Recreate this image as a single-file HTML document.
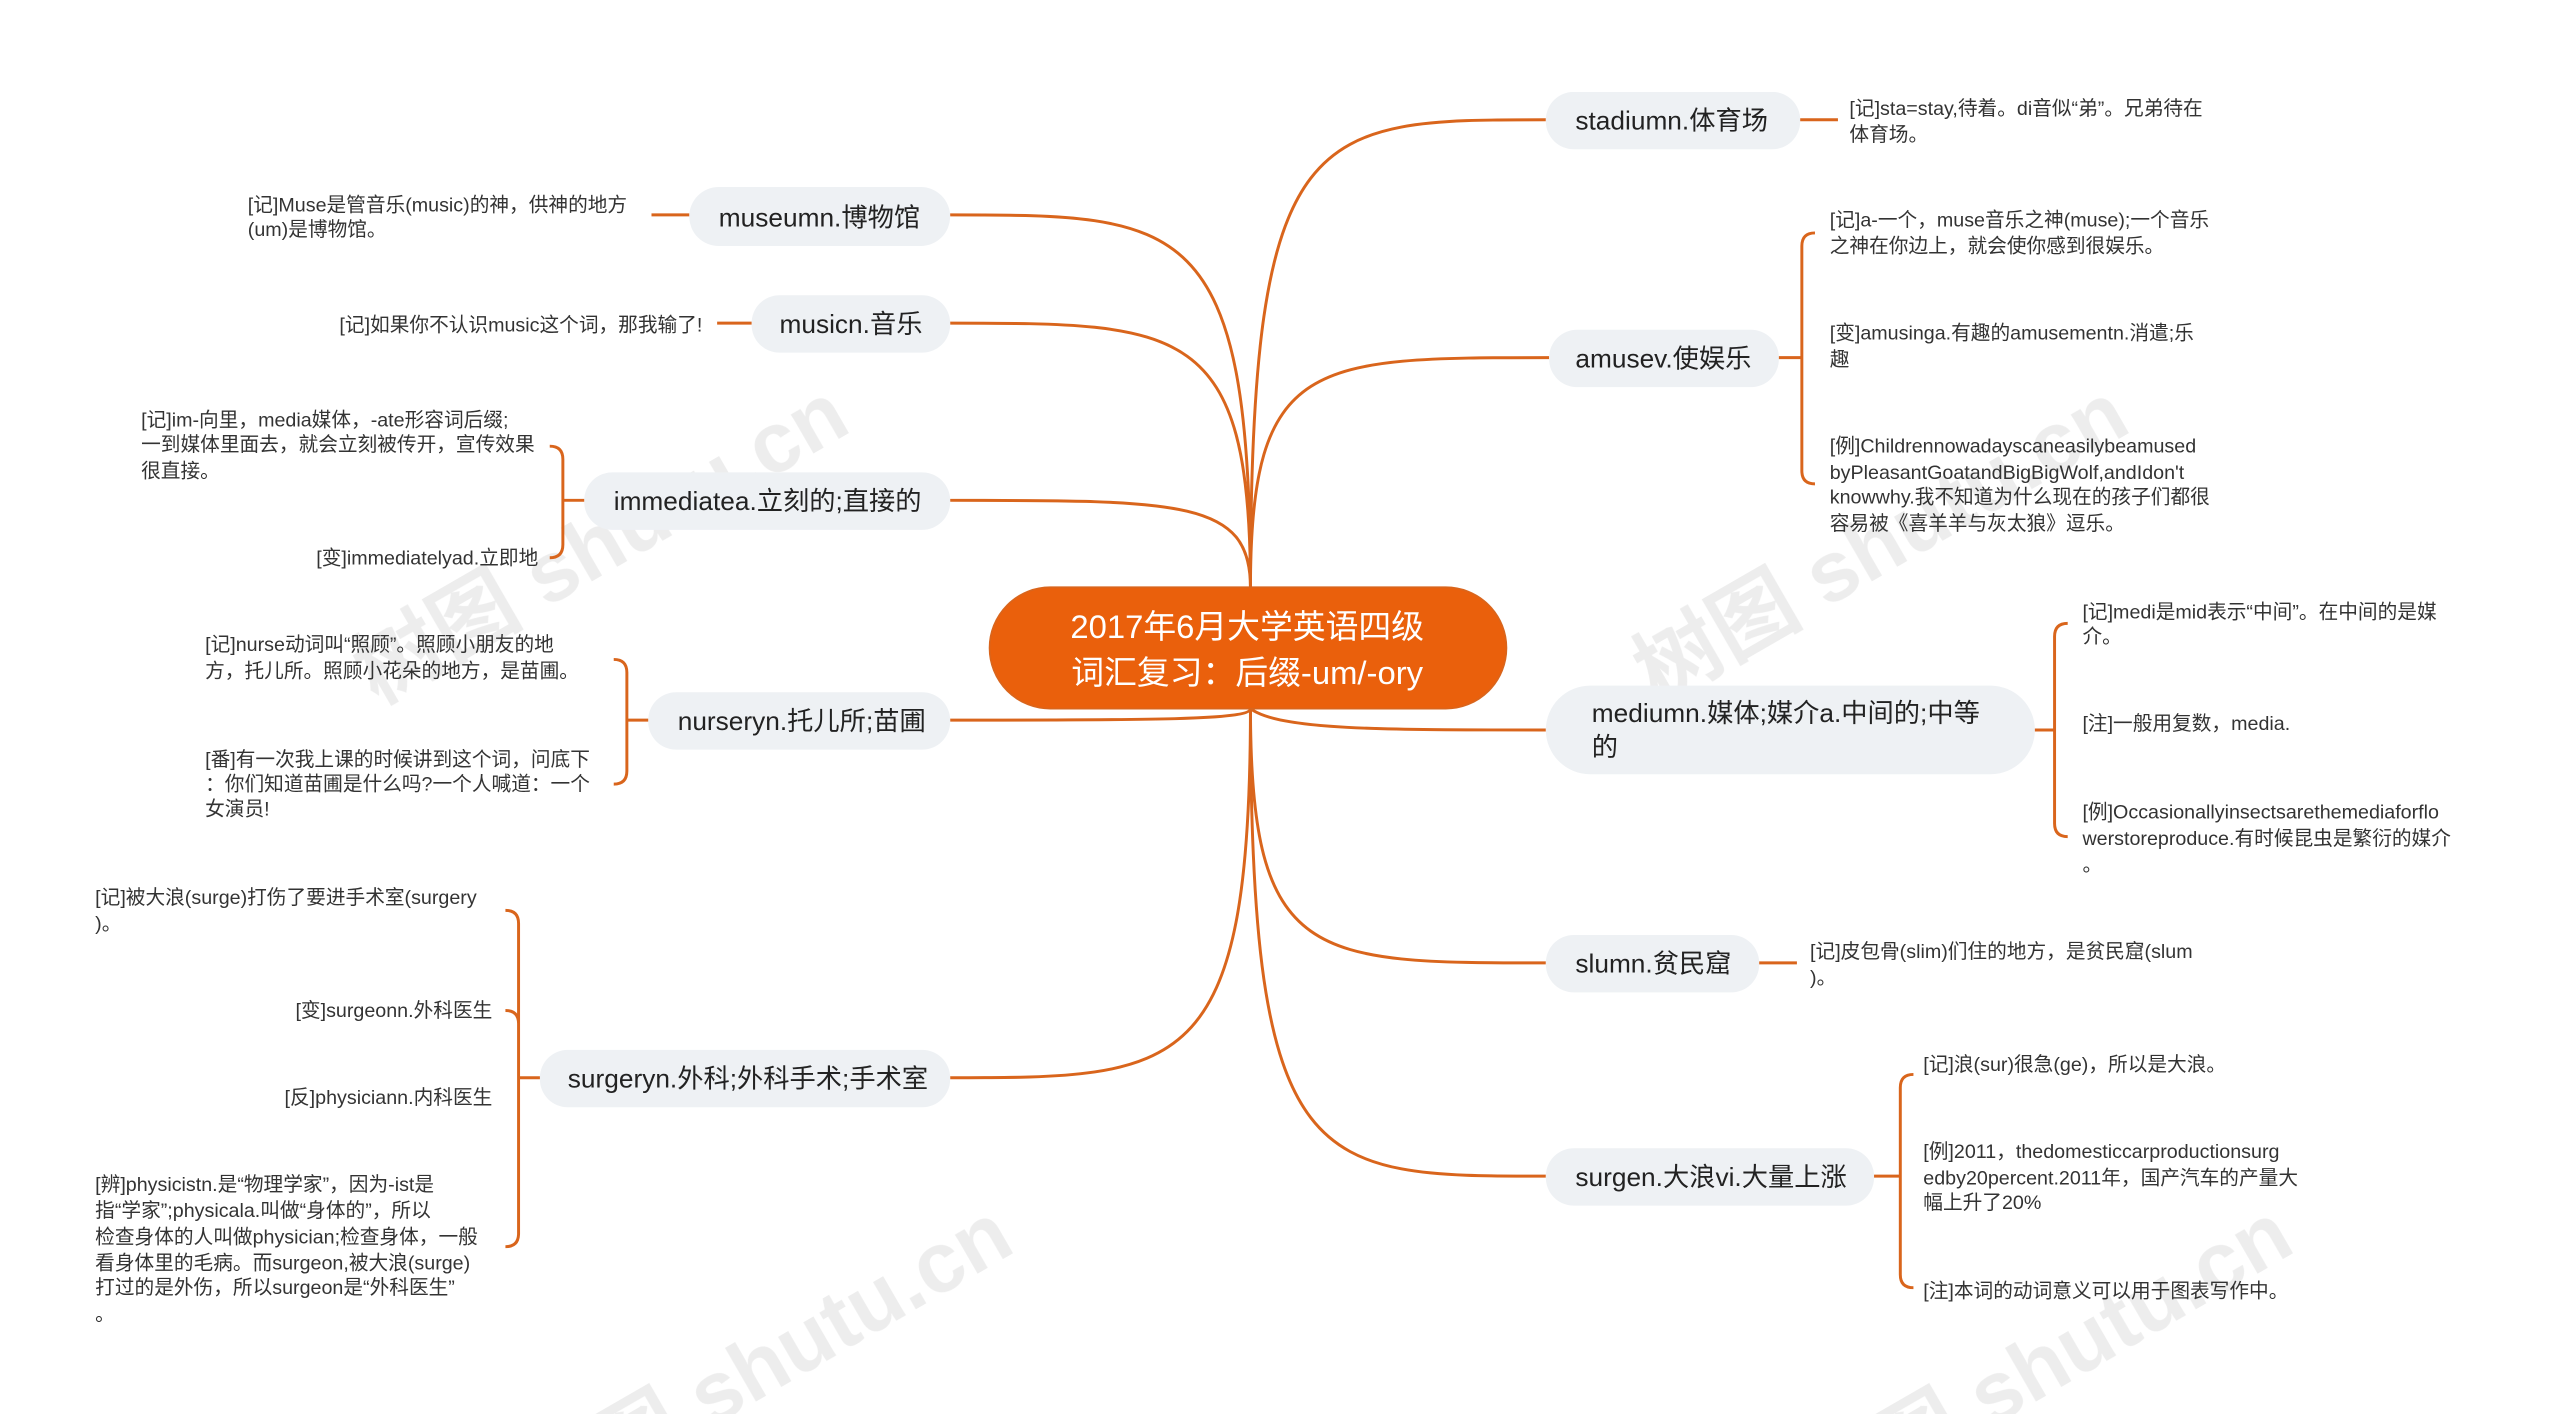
<!DOCTYPE html>
<html><head><meta charset="utf-8"><style>
html,body{margin:0;padding:0;background:#fff;width:2560px;height:1414px;overflow:hidden}
svg{display:block;overflow:hidden}
text{font-family:"Liberation Sans","Noto Sans CJK SC",sans-serif;fill:#222}
.n{font-size:16px;fill:#222}
.l{font-size:12px;fill:#333}
.w{font-size:52px;fill:#e2e2e2;font-weight:bold}
path{fill:none;stroke:#d9651c;stroke-width:1.8}
rect.b{fill:#eef1f4}
</style></head><body>
<svg width="2560" height="1414" viewBox="0 0 1560 862" preserveAspectRatio="none">
<g opacity="0.6">
<text class="w" transform="translate(230,430) rotate(-30)">树图 shutu.cn</text>
<text class="w" transform="translate(1010,430) rotate(-30)">树图 shutu.cn</text>
<text class="w" transform="translate(330,930) rotate(-30)">树图 shutu.cn</text>
<text class="w" transform="translate(1110,930) rotate(-30)">树图 shutu.cn</text>
</g>
<path d="M762,358 C762,73 800,73 942,73"/>
<path d="M762,358 C762,218 800,218 944,218"/>
<path d="M762,358 C762,131 720,131 579,131"/>
<path d="M762,358 C762,197 720,197 579,197"/>
<path d="M762,358 C762,305 720,305 579,305"/>
<path d="M762,432 C762,439 700,439 579,439"/>
<path d="M762,432 C762,657 720,657 579,657"/>
<path d="M762,432 C780,445 840,445 942,445"/>
<path d="M762,432 C762,587 800,587 942,587"/>
<path d="M762,432 C762,717 800,717 942,717"/>
<rect x="603" y="358" width="315" height="74" rx="37" fill="#ea600c" stroke="#d9651c"/>
<text x="760" y="389" text-anchor="middle" style="font-size:20px;fill:#fff">2017年6月大学英语四级</text>
<text x="760" y="417" text-anchor="middle" style="font-size:20px;fill:#fff">词汇复习：后缀-um/-ory</text>
<rect class="b" x="942" y="56" width="155" height="35" rx="17"/><text class="n" x="960" y="79">stadiumn.体育场</text>
<rect class="b" x="420" y="114" width="159" height="36" rx="18"/><text class="n" x="438" y="138">museumn.博物馆</text>
<rect class="b" x="458" y="180" width="121" height="35" rx="17"/><text class="n" x="475" y="203">musicn.音乐</text>
<rect class="b" x="356" y="288" width="223" height="35" rx="17"/><text class="n" x="374" y="311">immediatea.立刻的;直接的</text>
<rect class="b" x="395" y="422" width="184" height="35" rx="17"/><text class="n" x="413" y="445">nurseryn.托儿所;苗圃</text>
<rect class="b" x="329" y="640" width="250" height="35" rx="17"/><text class="n" x="346" y="663">surgeryn.外科;外科手术;手术室</text>
<rect class="b" x="944" y="201" width="140" height="35" rx="17"/><text class="n" x="960" y="224">amusev.使娱乐</text>
<rect class="b" x="942" y="418" width="298" height="54" rx="27"/><text class="n" x="970" y="440">mediumn.媒体;媒介a.中间的;中等</text><text class="n" x="970" y="461">的</text>
<rect class="b" x="942" y="570" width="130" height="35" rx="17"/><text class="n" x="960" y="593">slumn.贫民窟</text>
<rect class="b" x="942" y="700" width="200" height="35" rx="17"/><text class="n" x="960" y="723">surgen.大浪vi.大量上涨</text>
<path d="M1097,73 H1120"/><path d="M397,131 H420"/><path d="M437,197 H458"/><path d="M1072,587 H1095"/>
<path d="M356,305 H343 M343,305 V280 Q343,272 335,272 M343,305 V332 Q343,340 335,340"/>
<path d="M395,439 H382 M382,439 V410 Q382,402 374,402 M382,439 V470 Q382,478 374,478"/>
<path d="M329,657 H316 M316,657 V563 Q316,555 308,555 M316,657 V624 Q316,616 308,616 M316,657 V669 M316,657 V752 Q316,760 308,760"/>
<path d="M1084,218 H1098 M1098,218 V150 Q1098,142 1106,142 M1098,218 V211 M1098,218 V287 Q1098,295 1106,295"/>
<path d="M1240,445 H1252 M1252,445 V388 Q1252,380 1260,380 M1252,445 V441 M1252,445 V502 Q1252,510 1260,510"/>
<path d="M1142,717 H1158 M1158,717 V663 Q1158,655 1166,655 M1158,717 V777 Q1158,785 1166,785"/>
<text class="l" x="1127" y="70">[记]sta=stay,待着。di音似“弟”。兄弟待在</text><text class="l" x="1127" y="86">体育场。</text>
<text class="l" x="1115" y="138">[记]a-一个，muse音乐之神(muse);一个音乐</text><text class="l" x="1115" y="154">之神在你边上，就会使你感到很娱乐。</text>
<text class="l" x="1115" y="207">[变]amusinga.有趣的amusementn.消遣;乐</text><text class="l" x="1115" y="223">趣</text>
<text class="l" x="1115" y="276">[例]Childrennowadayscaneasilybeamused</text><text class="l" x="1115" y="292">byPleasantGoatandBigBigWolf,andIdon't</text><text class="l" x="1115" y="307">knowwhy.我不知道为什么现在的孩子们都很</text><text class="l" x="1115" y="323">容易被《喜羊羊与灰太狼》逗乐。</text>
<text class="l" x="1269" y="377">[记]medi是mid表示“中间”。在中间的是媒</text><text class="l" x="1269" y="392">介。</text>
<text class="l" x="1269" y="445">[注]一般用复数，media.</text>
<text class="l" x="1269" y="499">[例]Occasionallyinsectsarethemediaforflo</text><text class="l" x="1269" y="515">werstoreproduce.有时候昆虫是繁衍的媒介</text><text class="l" x="1269" y="531">。</text>
<text class="l" x="1103" y="584">[记]皮包骨(slim)们住的地方，是贫民窟(slum</text><text class="l" x="1103" y="600">)。</text>
<text class="l" x="1172" y="653">[记]浪(sur)很急(ge)，所以是大浪。</text>
<text class="l" x="1172" y="706">[例]2011，thedomesticcarproductionsurg</text><text class="l" x="1172" y="722">edby20percent.2011年，国产汽车的产量大</text><text class="l" x="1172" y="737">幅上升了20%</text>
<text class="l" x="1172" y="791">[注]本词的动词意义可以用于图表写作中。</text>
<text class="l" x="151" y="129">[记]Muse是管音乐(music)的神，供神的地方</text><text class="l" x="151" y="144">(um)是博物馆。</text>
<text class="l" x="428" y="202" text-anchor="end">[记]如果你不认识music这个词，那我输了!</text>
<text class="l" x="86" y="260">[记]im-向里，media媒体，-ate形容词后缀;</text><text class="l" x="86" y="275">一到媒体里面去，就会立刻被传开，宣传效果</text><text class="l" x="86" y="291">很直接。</text>
<text class="l" x="328" y="344" text-anchor="end">[变]immediatelyad.立即地</text>
<text class="l" x="125" y="397">[记]nurse动词叫“照顾”。照顾小朋友的地</text><text class="l" x="125" y="413">方，托儿所。照顾小花朵的地方，是苗圃。</text>
<text class="l" x="125" y="467">[番]有一次我上课的时候讲到这个词，问底下</text><text class="l" x="125" y="482">：你们知道苗圃是什么吗?一个人喊道：一个</text><text class="l" x="125" y="497">女演员!</text>
<text class="l" x="58" y="551">[记]被大浪(surge)打伤了要进手术室(surgery</text><text class="l" x="58" y="567">)。</text>
<text class="l" x="300" y="620" text-anchor="end">[变]surgeonn.外科医生</text>
<text class="l" x="300" y="673" text-anchor="end">[反]physiciann.内科医生</text>
<text class="l" x="58" y="726">[辨]physicistn.是“物理学家”，因为-ist是</text><text class="l" x="58" y="742">指“学家”;physicala.叫做“身体的”，所以</text><text class="l" x="58" y="758">检查身体的人叫做physician;检查身体，一般</text><text class="l" x="58" y="774">看身体里的毛病。而surgeon,被大浪(surge)</text><text class="l" x="58" y="789">打过的是外伤，所以surgeon是“外科医生”</text><text class="l" x="58" y="805">。</text>
</svg>
</body></html>
